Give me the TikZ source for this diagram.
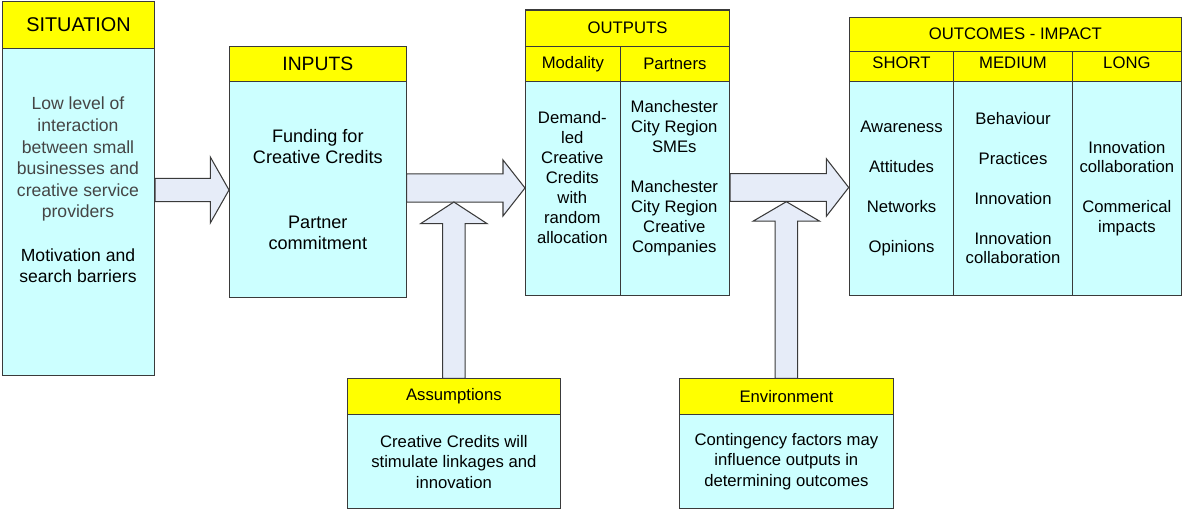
\documentclass[tikz,border=0pt]{standalone}
\usepackage{fontspec}
\setmainfont{Liberation Sans}
\usetikzlibrary{calc}
\definecolor{hdryellow}{HTML}{FFFF00}
\definecolor{bodycyan}{HTML}{CCFFFF}
\definecolor{arrowblue}{HTML}{E6ECF8}
\definecolor{edgegray}{HTML}{3A3A3A}
\definecolor{sitgray}{HTML}{454545}
\tikzset{
	hdr/.style={draw=edgegray,line width=0.6pt,fill=hdryellow,inner sep=0pt,anchor=north west,font=\fontsize{9.5}{11.3}\selectfont},
	subhdr/.style={hdr,text height=6.8pt,text depth=4pt},
	bodybox/.style={draw=edgegray,line width=0.6pt,fill=bodycyan,inner sep=0pt,anchor=north west,align=center,font=\fontsize{9.5}{11.3}\selectfont},
	bodytext/.style={align=center,inner sep=0pt,font=\fontsize{9.5}{11.4}\selectfont},
	blockarrow/.style={draw=edgegray,line width=0.6pt,fill=arrowblue,line join=miter}
}
\newcommand{\harrow}[5]{\draw[blockarrow] ($(#1)+(0,-#3)$)--($(#2)+(-#5,-#3)$)--($(#2)+(-#5,-#4)$)--(#2)--($(#2)+(-#5,#4)$)--($(#2)+(-#5,#3)$)--($(#1)+(0,#3)$)--cycle;}
\newcommand{\varrow}[5]{\draw[blockarrow] ($(#1)+(-#3,0)$)--($(#2)+(-#3,#5)$)--($(#2)+(-#4,#5)$)--(#2)--($(#2)+(#4,#5)$)--($(#2)+(#3,#5)$)--($(#1)+(#3,0)$)--cycle;}
\begin{document}
\begin{tikzpicture}[x=0.02cm,y=-0.02cm]
	\useasboundingbox (0,0) rectangle (1182,509);
	\node[hdr,minimum width=3.04cm,minimum height=0.94cm,font=\fontsize{11.3}{13}\selectfont] (sithdr) at (2,1) {SITUATION};
	\node[bodybox,minimum width=3.04cm,minimum height=6.54cm] (sitbody) at (2,48) {};
	\node[bodytext,text=sitgray,font=\fontsize{10}{12.3}\selectfont] (sittext) at (78,190) {Low level of\\interaction\\between small\\businesses and\\creative service\\providers\\[12.3pt]\textcolor{black}{Motivation and}\\\textcolor{black}{search barriers}};
	\node[hdr,minimum width=3.532cm,minimum height=0.706cm,font=\fontsize{11}{13}\selectfont] (inphdr) at (229,45.7) {INPUTS};
	\node[bodybox,minimum width=3.532cm,minimum height=4.32cm,font=\fontsize{10.3}{12.2}\selectfont] (inpbody) at (229,81) {Funding for\\Creative Credits\\[24.4pt]Partner\\commitment};
	\node[hdr,minimum width=4.08cm,minimum height=0.724cm] (outhdr) at (525,9.5) {OUTPUTS};
	\node[hdr,minimum width=1.894cm,minimum height=0.706cm] (modhdr) at (525,45.7) {Modality};
	\node[hdr,minimum width=2.186cm,minimum height=0.706cm] (parhdr) at (619.7,45.7) {Partners};
	\node[bodybox,minimum width=1.894cm,minimum height=4.28cm] (modbody) at (525,81) {};
	\node[bodybox,minimum width=2.186cm,minimum height=4.28cm] (parbody) at (619.7,81) {};
	\node[bodytext] (modtext) at (572.3,177.8) {Demand-\\led\\Creative\\Credits\\with\\random\\allocation};
	\node[bodytext] (partext) at (674.3,177.8) {Manchester\\City Region\\SMEs\\[11.3pt]Manchester\\City Region\\Creative\\Companies};
	\node[hdr,minimum width=6.646cm,minimum height=0.68cm] (ochdr) at (848.7,16.7) {OUTCOMES - IMPACT};
	\node[subhdr,minimum width=2.092cm,minimum height=0.606cm] (shorthdr) at (848.7,50.7) {SHORT};
	\node[subhdr,minimum width=2.368cm,minimum height=0.606cm] (medhdr) at (953.3,50.7) {MEDIUM};
	\node[subhdr,minimum width=2.186cm,minimum height=0.606cm] (longhdr) at (1071.7,50.7) {LONG};
	\node[bodybox,minimum width=2.092cm,minimum height=4.28cm] (shortbody) at (848.7,81) {Awareness\\[11.3pt]Attitudes\\[11.3pt]Networks\\[11.3pt]Opinions};
	\node[bodybox,minimum width=2.368cm,minimum height=4.28cm] (medbody) at (953.3,81) {Behaviour\\[11.3pt]Practices\\[11.3pt]Innovation\\[11.3pt]Innovation\\collaboration};
	\node[bodybox,minimum width=2.186cm,minimum height=4.28cm] (longbody) at (1071.7,81) {Innovation\\collaboration\\[11.3pt]Commerical\\impacts};
	\node[hdr,minimum width=4.266cm,minimum height=0.714cm] (asshdr) at (346.7,378.3) {Assumptions};
	\node[bodybox,minimum width=4.266cm,minimum height=1.886cm,font=\fontsize{9.5}{11.6}\selectfont] (assbody) at (346.7,414) {Creative Credits will\\stimulate linkages and\\innovation};
	\node[hdr,minimum width=4.274cm,minimum height=0.714cm] (envhdr) at (679,378.3) {Environment};
	\node[bodybox,minimum width=4.274cm,minimum height=1.886cm,font=\fontsize{9.5}{11.6}\selectfont] (envbody) at (679,414) {Contingency factors may\\influence outputs in\\determining outcomes};
	\coordinate (a1s) at (sitbody.east |- 0,190);\coordinate (a1e) at (inpbody.west |- 0,190);
	\coordinate (a2s) at (inpbody.east |- 0,188);\coordinate (a2e) at (modbody.west |- 0,188);
	\coordinate (a3s) at (parbody.east |- 0,187.5);\coordinate (a3e) at (shortbody.west |- 0,187.5);
	\coordinate (v1e) at (asshdr.north |- 0,202);\coordinate (v2e) at (envhdr.north |- 0,201.7);
	\harrow{a1s}{a1e}{11.6}{33}{18.7}
	\harrow{a2s}{a2e}{14.2}{28}{22}
	\harrow{a3s}{a3e}{13.9}{28.7}{22.3}
	\varrow{asshdr.north}{v1e}{11.3}{33.3}{21.7}
	\varrow{envhdr.north}{v2e}{11.3}{33.3}{19.5}
\end{tikzpicture}
\end{document}
